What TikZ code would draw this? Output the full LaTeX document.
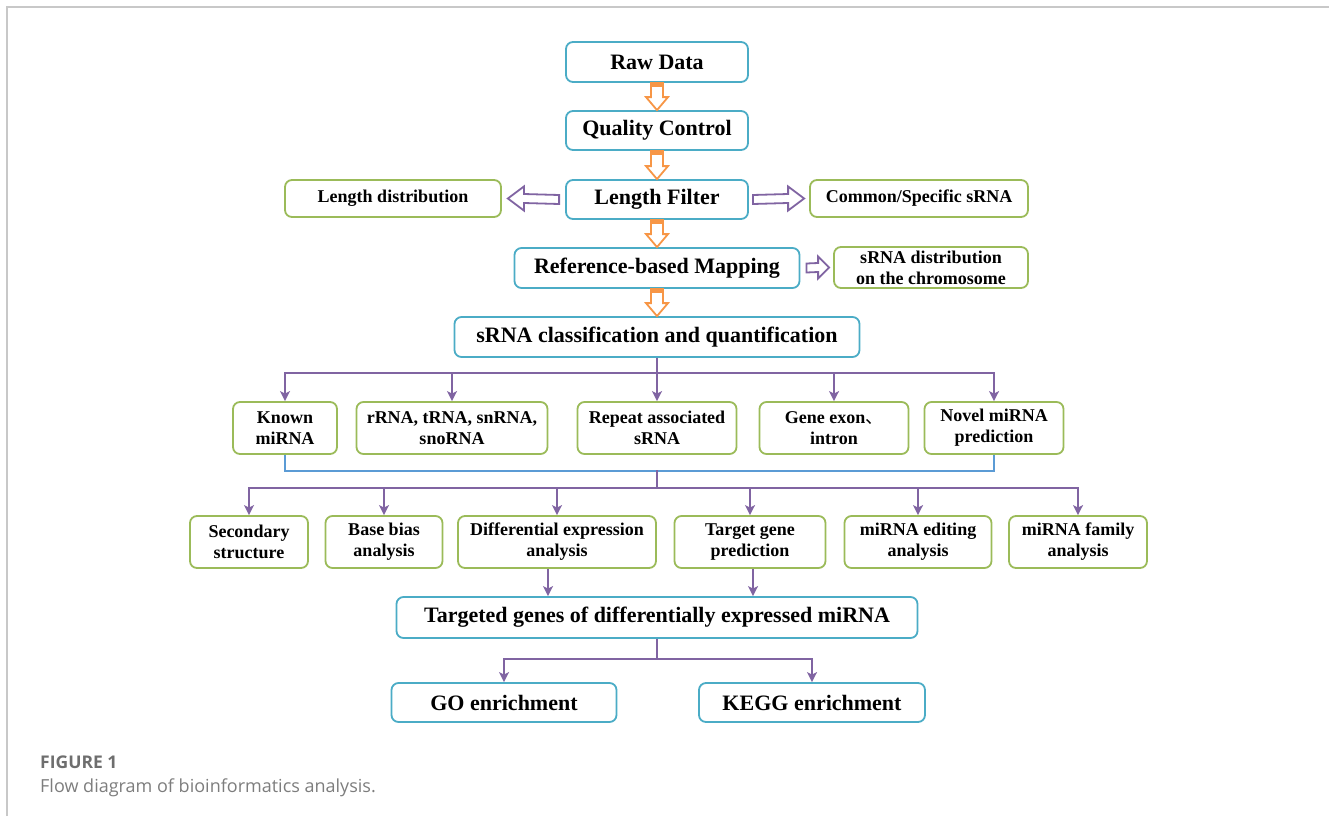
\documentclass[tikz,border=0pt]{standalone}
\usepackage{fontspec}
\setmainfont{Liberation Serif}
\newfontfamily\capfont{Open Sans}
\newfontfamily\cjk{Noto Sans CJK SC}
\usetikzlibrary{arrows.meta,calc}
\definecolor{bblue}{RGB}{75,172,198}
\definecolor{bgreen}{RGB}{155,187,89}
\definecolor{ppurple}{RGB}{128,100,162}
\definecolor{oorange}{RGB}{247,150,70}
\definecolor{lblue}{RGB}{91,155,213}
\definecolor{framegray}{RGB}{200,200,200}
\definecolor{capgray}{RGB}{110,110,110}
\definecolor{capgray2}{RGB}{125,125,125}
\begin{document}
\begin{tikzpicture}[x=1pt,y=-1pt,
  basebox/.style={rounded corners=7pt, line width=1.8pt, fill=white, inner sep=0pt, align=center},
  bluebox/.style={basebox, draw=bblue, font=\bfseries\fontsize{22}{26}\selectfont},
  greenbox/.style={basebox, draw=bgreen, font=\bfseries\fontsize{18}{21}\selectfont},
  pline/.style={draw=ppurple, line width=2pt},
  parr/.style={pline, -{Stealth[length=10pt,width=10pt,inset=2.5pt]}},
  bline/.style={draw=lblue, line width=1.3pt},
  oarrow/.style={draw=oorange, line width=1.8pt, fill=white, line join=miter},
  harrow/.style={draw=ppurple, line width=1.8pt, fill=white, line join=miter}
]
\useasboundingbox (0,0) rectangle (1329,816);
\draw[framegray, line width=1.5pt] (7,816) -- (7,7) -- (1329,7);

% main column
\node[bluebox, minimum width=182, minimum height=40] (raw) at (657,62) {Raw Data};
\node[bluebox, minimum width=182, minimum height=39] (qc) at (657,130.5) {Quality Control};
\node[bluebox, minimum width=182, minimum height=39] (lf) at (657,199.5) {Length Filter};
\node[greenbox, minimum width=216, minimum height=37] (ld) at (393,198.5) {Length distribution};
\node[greenbox, minimum width=218, minimum height=37] (cs) at (919,198.5) {Common/Specific sRNA};
\node[bluebox, minimum width=285, minimum height=40] (map) at (657,268) {Reference-based Mapping};
\node[greenbox, minimum width=194, minimum height=41] (dist) at (931,267.5) {sRNA distribution\\on the chromosome};
\node[bluebox, minimum width=405, minimum height=40] (cls) at (657,337) {sRNA classification and quantification};

% row 2
\node[greenbox, minimum width=104, minimum height=52] (known) at (285,428) {Known\\miRNA};
\node[greenbox, minimum width=191, minimum height=52] (rrna) at (452,428) {rRNA, tRNA, snRNA,\\snoRNA};
\node[greenbox, minimum width=159, minimum height=52] (rep) at (657,428) {Repeat associated\\sRNA};
\node[greenbox, minimum width=149, minimum height=52] (gene) at (834,428) {Gene exon{\cjk\mdseries 、}\\intron};
\node[greenbox, minimum width=139, minimum height=52] (novel) at (994,428) {Novel miRNA\\prediction};

% row 3
\node[greenbox, minimum width=118, minimum height=52] (sec) at (249,542) {Secondary\\structure};
\node[greenbox, minimum width=117, minimum height=52] (base) at (384,542) {Base bias\\analysis};
\node[greenbox, minimum width=198, minimum height=52] (diff) at (557,542) {Differential expression\\analysis};
\node[greenbox, minimum width=151, minimum height=52] (target) at (750,542) {Target gene\\prediction};
\node[greenbox, minimum width=147, minimum height=52] (edit) at (918,542) {miRNA editing\\analysis};
\node[greenbox, minimum width=138, minimum height=52] (fam) at (1078,542) {miRNA family\\analysis};

% bottom
\node[bluebox, minimum width=521, minimum height=41] (tg) at (657,617.5) {Targeted genes of differentially expressed miRNA};
\node[bluebox, minimum width=225, minimum height=39] (go) at (504,702.5) {GO enrichment};
\node[bluebox, minimum width=226, minimum height=39] (kegg) at (812,702.5) {KEGG enrichment};

% orange hollow arrows
\foreach \a/\b in {raw/qc, qc/lf, lf/map, map/cls}{
  \draw[oarrow] ($(\a.south)+(-6,0)$) -- ($(\b.north)+(-6,-13)$) -- ($(\b.north)+(-11,-13)$) -- (\b.north)
     -- ($(\b.north)+(11,-13)$) -- ($(\b.north)+(6,-13)$) -- ($(\a.south)+(6,0)$) -- cycle;
  \fill[oorange] ($(\a.south)+(-6,0)$) rectangle ($(\a.south)+(6,4)$);
}

% purple hollow arrows
\draw[harrow] ($(lf.west)+(-6,-4.5)$) -- ($(ld.east)+(22,-4.5)$) -- ($(ld.east)+(22,-12)$) -- ($(ld.east)+(6,0)$)
  -- ($(ld.east)+(22,12)$) -- ($(ld.east)+(22,4.5)$) -- ($(lf.west)+(-6,4.5)$) -- cycle;
\draw[harrow] ($(lf.east)+(4,-4.5)$) -- ($(cs.west)+(-21,-4.5)$) -- ($(cs.west)+(-21,-12)$) -- ($(cs.west)+(-5,0)$)
  -- ($(cs.west)+(-21,12)$) -- ($(cs.west)+(-21,4.5)$) -- ($(lf.east)+(4,4.5)$) -- cycle;
\draw[harrow] ($(map.east)+(6,-4.5)$) -- ($(dist.west)+(-15,-4.5)$) -- ($(dist.west)+(-15,-11)$) -- ($(dist.west)+(-4,0)$)
  -- ($(dist.west)+(-15,11)$) -- ($(dist.west)+(-15,4.5)$) -- ($(map.east)+(6,4.5)$) -- cycle;

% bus to row 2
\coordinate (b1) at (657,373);
\draw[pline] (cls.south) -- (b1);
\draw[pline, line cap=rect] (known.north |- b1) -- (novel.north |- b1);
\foreach \n in {known, rrna, rep, gene, novel}{
  \draw[parr] (\n.north |- b1) -- (\n.north);
}

% blue collector line
\draw[bline] (known.south) -- ++(0,16) -| (novel.south);
\coordinate (j2) at (657,470);
\coordinate (b2) at (657,488);
\draw[pline] (j2) -- (b2);
\draw[pline, line cap=rect] (sec.north |- b2) -- (fam.north |- b2);
\foreach \n in {sec, base, diff, target, edit, fam}{
  \draw[parr] (\n.north |- b2) -- (\n.north);
}

% to targeted genes
\draw[parr] ([xshift=-9pt]diff.south) -- ([xshift=-9pt]diff.south |- tg.north);
\draw[parr] ([xshift=3pt]target.south) -- ([xshift=3pt]target.south |- tg.north);

% to GO / KEGG
\coordinate (j3) at (657,659);
\draw[pline] (tg.south) -- (j3);
\draw[pline, line cap=rect] (go.north |- j3) -- (kegg.north |- j3);
\draw[parr] (go.north |- j3) -- (go.north);
\draw[parr] (kegg.north |- j3) -- (kegg.north);

% caption
\node[anchor=base west, inner sep=0, text=capgray, font=\capfont\bfseries\fontsize{17.5}{20}\selectfont] (fig) at (40,768) {FIGURE 1};
\node[anchor=base west, inner sep=0, text=capgray2, font=\capfont\fontsize{18}{21}\selectfont] (cap) at (40,792) {Flow diagram of bioinformatics analysis.};
\end{tikzpicture}
\end{document}
